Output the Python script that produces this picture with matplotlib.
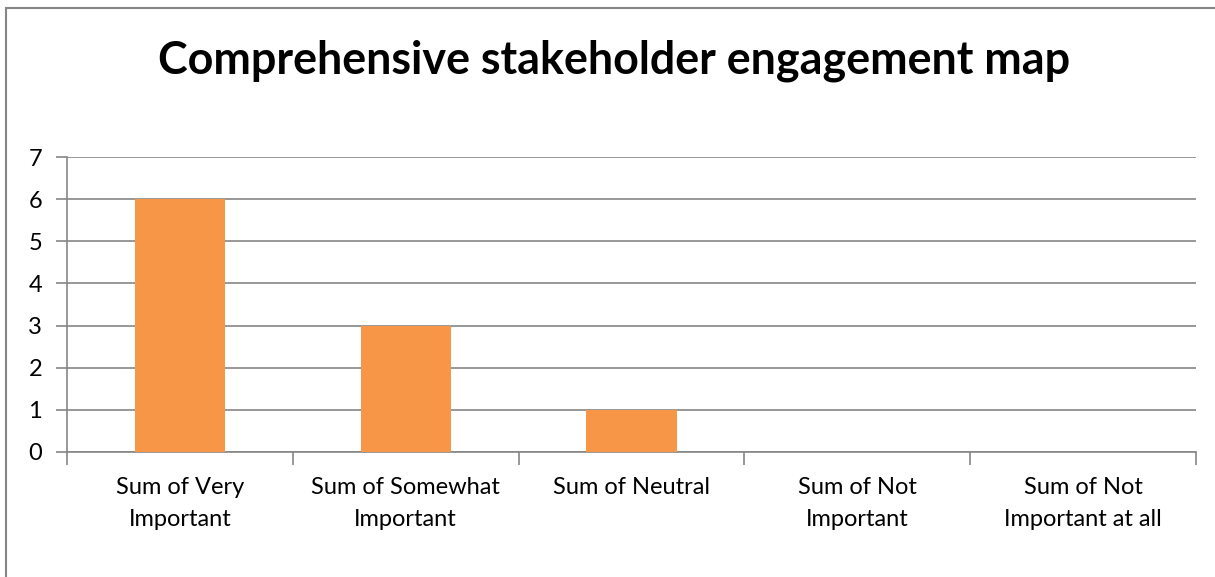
import matplotlib.pyplot as plt
from matplotlib.patches import Rectangle

categories = ["Sum of Very\nImportant", "Sum of Somewhat\nImportant", "Sum of Neutral",
              "Sum of Not\nImportant", "Sum of Not\nImportant at all"]
values = [6, 3, 1, 0, 0]
yticks = [0, 1, 2, 3, 4, 5, 6, 7]

plt.rcParams['font.family'] = ['Lato', 'DejaVu Sans']

fig = plt.figure(figsize=(12.15, 5.77), dpi=100)
ax = fig.add_axes([67 / 1215, 1 - 452 / 577, (1196 - 67) / 1215, (452 - 157) / 577])

grey = '#868686'
x = list(range(len(categories)))
ax.bar(x, values, width=0.4, color='#F79646', zorder=3)

ax.set_xlim(-0.5, len(categories) - 0.5)
ax.set_ylim(0, 7)
ax.set_yticks(yticks)
ax.set_yticklabels([str(v) for v in yticks], fontsize=17)
ax.set_xticks(x)
ax.set_xticklabels(categories, fontsize=17, linespacing=1.65)
ax.tick_params(axis='x', length=0, pad=18)
ax.tick_params(axis='y', length=8, color=grey, width=1.2, pad=10)

# category boundary ticks
ax.set_xticks([i - 0.5 for i in range(len(categories) + 1)], minor=True)
ax.tick_params(axis='x', which='minor', length=9, color=grey, width=1.2)

ax.grid(axis='y', color=grey, linewidth=1.2, zorder=0)
for s in ['top', 'right']:
    ax.spines[s].set_visible(False)
for s in ['left', 'bottom']:
    ax.spines[s].set_color(grey)
    ax.spines[s].set_linewidth(1.2)

fig.text(614 / 1215, 1 - 61 / 577, "Comprehensive stakeholder engagement map",
         ha='center', va='center', fontsize=32.3, fontweight='bold')

# outer chart border
fig.patches.append(Rectangle((6 / 1215, -0.1), 1.2, 1 - 7.5 / 577 + 0.1,
                             transform=fig.transFigure, fill=False,
                             edgecolor=grey, linewidth=1.5))

fig.savefig('out.png', dpi=100, facecolor='white')
